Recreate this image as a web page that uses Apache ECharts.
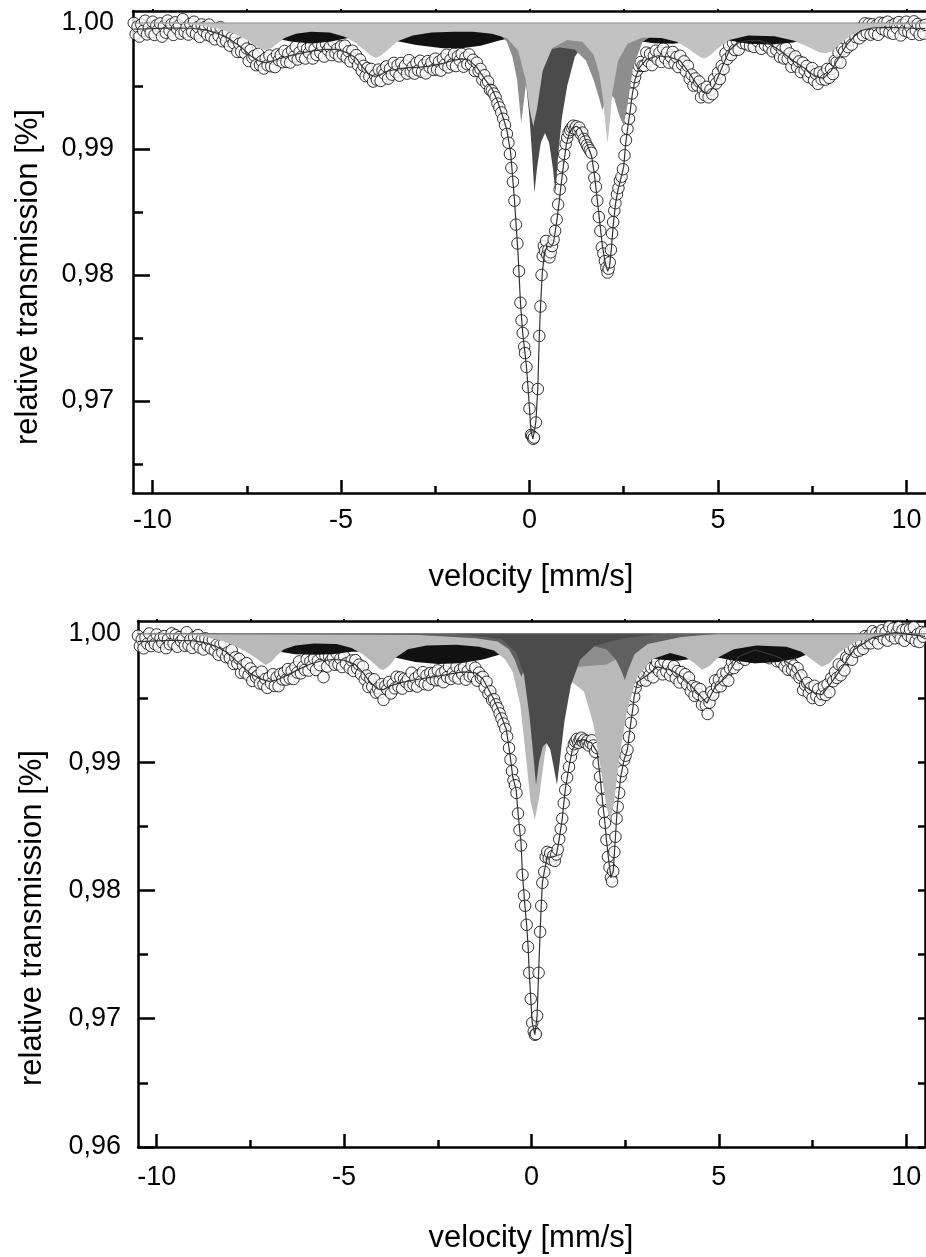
<!DOCTYPE html>
<html><head><meta charset="utf-8">
<script src="https://cdn.jsdelivr.net/npm/echarts@6/dist/echarts.min.js"></script>
<style>html,body{margin:0;padding:0;background:#fff}#c{width:926px;height:1257px}</style>
</head><body><div id="c"></div><script>
// ---------- tick values ----------
const xMajorTicks = [-10, -5, 0, 5, 10];
const xMinorTicks = [-7.5, -2.5, 2.5, 7.5];
const xTopTicks = [-10, -7.5, -5, -2.5, 0, 2.5, 5, 7.5, 10];
const topYMajor = [0.97, 0.98, 0.99, 1.00];
const topYMinor = [0.965, 0.975, 0.985, 0.995];
const botYMajor = [0.96, 0.97, 0.98, 0.99, 1.00];
const botYMinor = [0.965, 0.975, 0.985, 0.995];
const xTitle = 'velocity [mm/s]';
const yTitle = 'relative transmission [%]';
const baseline = [[-10.6, 1.0], [10.6, 1.0]];

// ---------- top panel: measured points ----------
const topLeftPts = [
[-10.50,1.00000],[-10.45,0.99911],[-10.40,0.99971],[-10.35,0.99892],[-10.30,0.99987],[-10.25,0.99938],[-10.20,1.00018],[-10.15,0.99909],[-10.10,0.99964],[-10.05,0.99925],
[-10.00,1.00010],[-9.95,0.99905],[-9.90,0.99981],[-9.85,0.99946],[-9.80,0.99997],[-9.75,0.99892],[-9.70,0.99973],[-9.65,0.99923],[-9.60,1.00019],[-9.55,0.99939],
[-9.50,0.99990],[-9.45,0.99905],[-9.40,1.00005],[-9.35,0.99955],[-9.30,0.99980],[-9.25,0.99915],[-9.20,1.00030],[-9.15,0.99930],[-9.10,0.99965],[-9.05,0.99908],
[-9.00,0.99993],[-8.95,0.99931],[-8.90,1.00010],[-8.85,0.99913],[-8.80,0.99967],[-8.75,0.99890],[-8.70,0.99988],[-8.65,0.99937],[-8.60,0.99970],[-8.55,0.99906],
[-8.50,0.99987],[-8.45,0.99893],[-8.40,0.99949],[-8.35,0.99870],[-8.30,0.99955],[-8.25,0.99898],[-8.20,0.99967],[-8.15,0.99855],[-8.10,0.99903],[-8.05,0.99857],
[-8.00,0.99930],[-7.95,0.99820],[-7.90,0.99885],[-7.85,0.99840],[-7.80,0.99880],[-7.75,0.99770],[-7.70,0.99835],[-7.65,0.99772],[-7.60,0.99848],[-7.55,0.99760],
[-7.50,0.99797],[-7.45,0.99698],[-7.40,0.99785],[-7.35,0.99725],[-7.30,0.99740],[-7.25,0.99665],[-7.20,0.99755],[-7.15,0.99666],[-7.10,0.99697],[-7.05,0.99639],
[-7.00,0.99720],[-6.95,0.99664],[-6.90,0.99742],[-6.85,0.99656],[-6.80,0.99715],[-6.75,0.99650],[-6.70,0.99750],[-6.65,0.99705],[-6.60,0.99745],[-6.55,0.99689],
[-6.50,0.99778],[-6.45,0.99693],[-6.40,0.99757],[-6.35,0.99686],[-6.30,0.99780],[-6.25,0.99733],[-6.20,0.99812],[-6.15,0.99710],[-6.10,0.99768],[-6.05,0.99732],
[-6.00,0.99815],[-5.95,0.99718],[-5.90,0.99795],[-5.85,0.99763],[-5.80,0.99815],[-5.75,0.99718],[-5.70,0.99795],[-5.65,0.99747],[-5.60,0.99838],[-5.55,0.99765],
[-5.50,0.99817],[-5.45,0.99733],[-5.40,0.99835],[-5.35,0.99785],[-5.30,0.99810],[-5.25,0.99745],[-5.20,0.99850],[-5.15,0.99760],[-5.10,0.99795],[-5.05,0.99735],
[-5.00,0.99815],[-4.95,0.99750],[-4.90,0.99820],[-4.85,0.99725],[-4.80,0.99775],[-4.75,0.99695],[-4.70,0.99780],[-4.65,0.99720],[-4.60,0.99745],[-4.55,0.99665],
[-4.50,0.99710],[-4.45,0.99620],[-4.40,0.99660],[-4.35,0.99578],[-4.30,0.99642],[-4.25,0.99575],[-4.20,0.99635],[-4.15,0.99535],[-4.10,0.99585],[-4.05,0.99550],
[-4.00,0.99630],[-3.95,0.99540],[-3.90,0.99623],[-3.85,0.99597],[-3.80,0.99655],[-3.75,0.99558],[-3.70,0.99637],[-3.65,0.99590],[-3.60,0.99683],[-3.55,0.99612],
[-3.50,0.99665],[-3.45,0.99582],[-3.40,0.99683],[-3.35,0.99635],[-3.30,0.99662],[-3.25,0.99598],[-3.20,0.99705],[-3.15,0.99616],[-3.10,0.99652],[-3.05,0.99598],
[-3.00,0.99683],[-2.95,0.99624],[-2.90,0.99700],[-2.85,0.99612],[-2.80,0.99668],[-2.75,0.99600],[-2.70,0.99697],[-2.65,0.99648],[-2.60,0.99685],[-2.55,0.99628],
[-2.50,0.99717],[-2.45,0.99630],[-2.40,0.99693],[-2.35,0.99622],[-2.30,0.99715],[-2.25,0.99669],[-2.20,0.99748],[-2.15,0.99648],[-2.10,0.99707],[-2.05,0.99671],
[-2.00,0.99755],[-1.95,0.99658],[-1.90,0.99735],[-1.85,0.99703],[-1.80,0.99755],[-1.75,0.99653],[-1.70,0.99725],[-1.65,0.99673],[-1.60,0.99750],[-1.55,0.99671],
[-1.50,0.99708],[-1.45,0.99619],[-1.40,0.99685],[-1.35,0.99618],[-1.30,0.99635],[-1.25,0.99548],[-1.20,0.99585],[-1.15,0.99520],[-1.10,0.99535],[-1.05,0.99470]
];
const topCenterPts = [
[-1.0,0.99465],[-0.95,0.99440],[-0.90,0.99410],[-0.85,0.99360],[-0.80,0.99330],
[-0.75,0.99290],[-0.70,0.99240],[-0.65,0.99190],[-0.60,0.99120],[-0.56,0.99050],[-0.52,0.98960],[-0.48,0.98850],[-0.44,0.98740],[-0.40,0.98590],[-0.36,0.98400],
[-0.32,0.98250],[-0.28,0.98030],[-0.24,0.97780],[-0.21,0.97640],[-0.18,0.97540],[-0.14,0.97430],[-0.12,0.97380],[-0.08,0.97270],[-0.04,0.97110],[0.00,0.96940],
[0.04,0.96730],[0.07,0.96720],[0.10,0.96700],[0.12,0.96710],[0.17,0.96830],[0.22,0.97095],[0.26,0.97516],[0.29,0.97750],[0.32,0.98000],[0.35,0.98150],
[0.38,0.98230],[0.41,0.98190],[0.44,0.98270],[0.47,0.98160],[0.50,0.98200],[0.53,0.98140],[0.56,0.98180],[0.60,0.98230],[0.64,0.98280],[0.68,0.98350],
[0.72,0.98440],[0.76,0.98560],[0.80,0.98680],[0.84,0.98760],[0.88,0.98860],[0.92,0.98960],[0.96,0.99040],[1.00,0.99090],[1.04,0.99130],[1.08,0.99150],
[1.12,0.99170],[1.16,0.99185],[1.20,0.99160],[1.24,0.99180],[1.28,0.99150],[1.32,0.99170],[1.36,0.99120],[1.40,0.99130],[1.44,0.99080],[1.48,0.99060],
[1.52,0.99030],[1.56,0.99010],[1.60,0.98990],[1.64,0.98970],[1.68,0.98860],[1.72,0.98770],[1.76,0.98700],[1.80,0.98590],[1.84,0.98460],[1.88,0.98350],
[1.92,0.98220],[1.96,0.98170],[2.00,0.98110],[2.04,0.98060],[2.07,0.98020],[2.10,0.98050],[2.13,0.98100],[2.16,0.98200],[2.19,0.98330],[2.22,0.98420],
[2.25,0.98510],[2.28,0.98570],[2.32,0.98640],[2.36,0.98690],[2.40,0.98750],[2.44,0.98780],[2.48,0.98840],[2.52,0.98950],[2.56,0.99070],[2.60,0.99160],
[2.64,0.99240],[2.68,0.99320],[2.72,0.99440],[2.76,0.99530],[2.80,0.99570],[2.85,0.99620],[2.90,0.99660],[2.95,0.99690],[3.00,0.99660]
];
const topRightPts = [
[3.05,0.99660],[3.10,0.99765],[3.15,0.99695],[3.20,0.99755],[3.25,0.99665],[3.30,0.99740],[3.35,0.99780],[3.40,0.99710],[3.45,0.99765],[3.50,0.99690],
[3.55,0.99798],[3.60,0.99722],[3.65,0.99765],[3.70,0.99685],[3.75,0.99730],[3.80,0.99770],[3.85,0.99680],[3.90,0.99730],[3.95,0.99650],[4.00,0.99740],
[4.05,0.99670],[4.10,0.99695],[4.15,0.99615],[4.20,0.99660],[4.25,0.99557],[4.30,0.99590],[4.35,0.99503],[4.40,0.99560],[4.45,0.99505],[4.50,0.99535],
[4.55,0.99410],[4.60,0.99475],[4.65,0.99427],[4.70,0.99493],[4.75,0.99410],[4.80,0.99470],[4.85,0.99435],[4.90,0.99555],[4.95,0.99520],[5.00,0.99605],
[5.05,0.99555],[5.10,0.99660],[5.15,0.99635],[5.20,0.99760],[5.25,0.99715],[5.30,0.99820],[5.35,0.99745],[5.40,0.99840],[5.45,0.99785],[5.50,0.99860],
[5.55,0.99788],[5.60,0.99887],[5.65,0.99840],[5.70,0.99888],[5.75,0.99832],[5.80,0.99905],[5.85,0.99820],[5.90,0.99875],[5.95,0.99810],[6.00,0.99890],
[6.05,0.99855],[6.10,0.99905],[6.15,0.99795],[6.20,0.99875],[6.25,0.99825],[6.30,0.99890],[6.35,0.99805],[6.40,0.99840],[6.45,0.99775],[6.50,0.99865],
[6.55,0.99785],[6.60,0.99825],[6.65,0.99730],[6.70,0.99790],[6.75,0.99718],[6.80,0.99802],[6.85,0.99715],[6.90,0.99758],[6.95,0.99652],[7.00,0.99710],
[7.05,0.99735],[7.10,0.99650],[7.15,0.99695],[7.20,0.99610],[7.25,0.99685],[7.30,0.99625],[7.35,0.99658],[7.40,0.99571],[7.45,0.99609],[7.50,0.99642],
[7.55,0.99545],[7.60,0.99596],[7.65,0.99517],[7.70,0.99608],[7.75,0.99554],[7.80,0.99595],[7.85,0.99550],[7.90,0.99635],[7.95,0.99565],[8.00,0.99635],
[8.05,0.99595],[8.10,0.99700],[8.15,0.99690],[8.20,0.99765],[8.25,0.99685],[8.30,0.99795],[8.35,0.99775],[8.40,0.99870],[8.45,0.99808],[8.50,0.99865],
[8.55,0.99828],[8.60,0.99945],[8.65,0.99888],[8.70,0.99950],[8.75,0.99878],[8.80,0.99960],[8.85,0.99903],[8.90,0.99997],[8.95,0.99920],[9.00,0.99993],
[9.05,0.99907],[9.10,0.99990],[9.15,0.99920],[9.20,0.99981],[9.25,0.99906],[9.30,1.00002],[9.35,0.99952],[9.40,0.99998],[9.45,0.99939],[9.50,1.00010],
[9.55,0.99925],[9.60,0.99979],[9.65,0.99914],[9.70,0.99993],[9.75,0.99958],[9.80,1.00007],[9.85,0.99901],[9.90,0.99986],[9.95,0.99940],[10.00,1.00010],
[10.05,0.99929],[10.10,0.99969],[10.15,0.99913],[10.20,1.00013],[10.25,0.99942],[10.30,0.99992],[10.35,0.99906],[10.40,0.99976],[10.45,0.99915],[10.50,0.99985]
];
// ---------- top panel: fit envelope ----------
const topFit = [
[-10.5,0.99950],[-10.0,0.99955],[-9.5,0.99960],[-9.0,0.99958],[-8.6,0.99945],[-8.3,0.99920],[-8.0,0.99880],[-7.7,0.99820],[-7.4,0.99740],[-7.2,0.99700],
[-7.0,0.99685],[-6.8,0.99700],[-6.6,0.99720],[-6.3,0.99745],[-6.0,0.99765],[-5.7,0.99780],[-5.4,0.99790],[-5.1,0.99790],[-4.8,0.99760],[-4.6,0.99720],
[-4.4,0.99640],[-4.25,0.99590],[-4.1,0.99575],[-3.95,0.99590],[-3.8,0.99615],[-3.5,0.99635],[-3.2,0.99645],[-2.9,0.99650],[-2.6,0.99660],[-2.3,0.99680],
[-2.0,0.99705],[-1.8,0.99715],[-1.6,0.99705],[-1.4,0.99650],[-1.2,0.99560],[-1.0,0.99480],[-0.85,0.99380],[-0.7,0.99250],[-0.6,0.99150],[-0.5,0.98970],
[-0.4,0.98600],[-0.3,0.98150],[-0.24,0.97780],[-0.18,0.97540],[-0.12,0.97380],[-0.08,0.97270],[-0.04,0.97110],[0.0,0.96940],[0.04,0.96760],[0.09,0.96700],
[0.13,0.96760],[0.17,0.96840],[0.22,0.97100],[0.26,0.97520],[0.30,0.97800],[0.34,0.98020],[0.40,0.98180],[0.48,0.98230],[0.56,0.98220],[0.64,0.98260],
[0.72,0.98420],[0.78,0.98560],[0.84,0.98720],[0.90,0.98870],[0.98,0.99040],[1.06,0.99130],[1.15,0.99170],[1.25,0.99180],[1.35,0.99160],[1.45,0.99100],
[1.55,0.99020],[1.65,0.98940],[1.72,0.98800],[1.79,0.98620],[1.86,0.98430],[1.93,0.98240],[2.00,0.98110],[2.07,0.98030],[2.12,0.98060],[2.17,0.98200],
[2.22,0.98390],[2.28,0.98560],[2.35,0.98680],[2.42,0.98760],[2.50,0.98860],[2.55,0.99040],[2.62,0.99200],[2.68,0.99320],[2.73,0.99440],[2.80,0.99550],
[2.9,0.99640],[3.1,0.99710],[3.4,0.99740],[3.7,0.99730],[4.0,0.99700],[4.2,0.99620],[4.4,0.99530],[4.6,0.99450],[4.75,0.99440],[4.9,0.99500],
[5.1,0.99640],[5.3,0.99780],[5.5,0.99840],[5.8,0.99860],[6.1,0.99860],[6.4,0.99830],[6.7,0.99770],[7.0,0.99700],[7.3,0.99640],[7.55,0.99580],
[7.8,0.99560],[8.0,0.99620],[8.2,0.99720],[8.4,0.99820],[8.6,0.99890],[8.8,0.99940],[9.1,0.99960],[9.5,0.99965],[10.0,0.99960],[10.5,0.99955]
];
// ---------- top panel: subspectra ----------
const topBlack = [
[-10.5,1.0],[-9.0,1.0],[-8.2,0.9998],[-7.5,0.9995],[-6.8,0.9988],[-6.3,0.9985],[-5.8,0.99838],[-5.3,0.9985],[-4.8,0.9988],[-4.3,0.9989],
[-3.6,0.9986],[-3.0,0.99825],[-2.3,0.9980],[-1.8,0.9980],[-1.3,0.9982],[-0.8,0.9986],[-0.2,0.9990],[0.5,0.9992],[1.2,0.9991],[2.0,0.9989],
[2.8,0.9986],[3.3,0.9984],[3.8,0.99835],[4.3,0.9985],[4.8,0.9987],[5.3,0.9986],[5.8,0.99835],[6.4,0.9983],[7.0,0.99845],[7.5,0.9988],
[8.2,0.9994],[9.0,0.9998],[10.5,1.0]
];
const topDark = [
[-10.5,1.0],[-3.0,1.0],[-1.0,0.99965],[-0.6,0.9993],[-0.4,0.9988],[-0.25,0.9978],[-0.1,0.9955],[0.0,0.9925],[0.07,0.9895],[0.13,0.98651],
[0.2,0.9885],[0.3,0.9905],[0.41,0.99127],[0.52,0.9905],[0.62,0.9885],[0.69,0.98651],[0.76,0.9895],[0.86,0.9925],[1.0,0.9950],[1.2,0.9973],
[1.5,0.9987],[2.0,0.99945],[3.0,0.9998],[4.0,1.0],[10.5,1.0]
];
const topMid = [
[-10.5,1.0],[-3.0,1.0],[-2.0,0.99985],[-1.2,0.9995],[-0.8,0.9991],[-0.6,0.9985],[-0.45,0.9973],[-0.33,0.9955],[-0.22,0.99206],[-0.1,0.9950],
[0.1,0.9970],[0.4,0.9978],[0.8,0.99805],[1.2,0.9979],[1.5,0.9970],[1.7,0.9955],[1.85,0.9940],[1.93,0.9931],[2.0,0.9936],[2.1,0.9945],
[2.25,0.9940],[2.4,0.9925],[2.5,0.9919],[2.6,0.9935],[2.75,0.9965],[3.0,0.9985],[3.5,0.99945],[4.5,0.9998],[6.0,1.0],[10.5,1.0]
];
const topLight = [
[-10.5,1.0],[-9.5,0.99995],[-9.0,0.9999],[-8.6,0.99975],[-8.2,0.9995],[-7.8,0.9991],[-7.5,0.99865],[-7.3,0.99825],[-7.15,0.99795],[-7.0,0.99786],
[-6.85,0.9980],[-6.7,0.99835],[-6.5,0.9988],[-6.2,0.99915],[-5.8,0.9993],[-5.3,0.99925],[-4.9,0.9989],[-4.6,0.9984],[-4.4,0.9979],[-4.2,0.9974],
[-4.08,0.99722],[-3.95,0.9974],[-3.75,0.9979],[-3.5,0.99855],[-3.1,0.9990],[-2.6,0.99925],[-2.0,0.9993],[-1.5,0.9993],[-1.0,0.99915],[-0.6,0.9988],
[-0.3,0.9978],[-0.1,0.9955],[0.0,0.9932],[0.1,0.9918],[0.2,0.9932],[0.35,0.9962],[0.6,0.9980],[1.0,0.99865],[1.4,0.9985],[1.7,0.9975],
[1.85,0.9960],[1.95,0.9940],[2.02,0.9918],[2.07,0.99048],[2.12,0.9918],[2.2,0.9945],[2.35,0.9970],[2.6,0.99835],[3.0,0.99885],[3.5,0.9988],
[3.9,0.9985],[4.2,0.9980],[4.4,0.99755],[4.55,0.99725],[4.66,0.9972],[4.8,0.99745],[5.0,0.9980],[5.3,0.99865],[5.8,0.9990],[6.5,0.99895],
[7.0,0.9986],[7.4,0.9981],[7.7,0.99765],[7.88,0.9976],[8.05,0.9978],[8.3,0.9985],[8.6,0.99915],[9.0,0.99955],[9.5,0.9998],[10.5,0.99995]
];

// ---------- bottom panel: measured points ----------
const botLeftPts = [
[-10.50,0.99985],[-10.45,0.99905],[-10.40,0.99956],[-10.35,0.99887],[-10.30,0.99972],[-10.25,0.99923],[-10.20,1.00003],[-10.15,0.99904],[-10.10,0.99949],[-10.05,0.99920],
[-10.00,0.99995],[-9.95,0.99901],[-9.90,0.99966],[-9.85,0.99932],[-9.80,0.99982],[-9.75,0.99888],[-9.70,0.99958],[-9.65,0.99919],[-9.60,1.00004],[-9.55,0.99925],
[-9.50,0.99990],[-9.45,0.99899],[-9.40,0.99974],[-9.35,0.99943],[-9.30,0.99963],[-9.25,0.99907],[-9.20,1.00012],[-9.15,0.99911],[-9.10,0.99956],[-9.05,0.99890],
[-9.00,0.99975],[-8.95,0.99923],[-8.90,0.99990],[-8.85,0.99893],[-8.80,0.99955],[-8.75,0.99878],[-8.70,0.99965],[-8.65,0.99910],[-8.60,0.99950],[-8.55,0.99885],
[-8.50,0.99955],[-8.45,0.99870],[-8.40,0.99915],[-8.35,0.99837],[-8.30,0.99913],[-8.25,0.99855],[-8.20,0.99927],[-8.15,0.99818],[-8.10,0.99855],[-8.05,0.99812],
[-8.00,0.99873],[-7.95,0.99765],[-7.90,0.99817],[-7.85,0.99768],[-7.80,0.99805],[-7.75,0.99697],[-7.70,0.99753],[-7.65,0.99700],[-7.60,0.99772],[-7.55,0.99678],
[-7.50,0.99730],[-7.45,0.99633],[-7.40,0.99700],[-7.35,0.99663],[-7.30,0.99675],[-7.25,0.99613],[-7.20,0.99705],[-7.15,0.99606],[-7.10,0.99648],[-7.05,0.99579],
[-7.00,0.99660],[-6.95,0.99613],[-6.90,0.99685],[-6.85,0.99593],[-6.80,0.99660],[-6.75,0.99592],[-6.70,0.99688],[-6.65,0.99645],[-6.60,0.99697],[-6.55,0.99643],
[-6.50,0.99725],[-6.45,0.99653],[-6.40,0.99710],[-6.35,0.99648],[-6.30,0.99740],[-6.25,0.99698],[-6.20,0.99785],[-6.15,0.99692],[-6.10,0.99743],[-6.05,0.99720],
[-6.00,0.99802],[-5.95,0.99713],[-5.90,0.99785],[-5.85,0.99754],[-5.80,0.99808],[-5.75,0.99718],[-5.70,0.99792],[-5.65,0.99756],[-5.60,0.99845],[-5.55,0.99662],
[-5.50,0.99833],[-5.45,0.99745],[-5.40,0.99822],[-5.35,0.99793],[-5.30,0.99815],[-5.25,0.99759],[-5.20,0.99848],[-5.15,0.99762],[-5.10,0.99807],[-5.05,0.99741],
[-5.00,0.99825],[-4.95,0.99769],[-4.90,0.99913],[-4.85,0.99732],[-4.80,0.99792],[-4.75,0.99711],[-4.70,0.99795],[-4.65,0.99730],[-4.60,0.99760],[-4.55,0.99685],
[-4.50,0.99745],[-4.45,0.99645],[-4.40,0.99675],[-4.35,0.99585],[-4.30,0.99650],[-4.25,0.99587],[-4.20,0.99645],[-4.15,0.99542],[-4.10,0.99575],[-4.05,0.99543],
[-4.00,0.99607],[-3.95,0.99485],[-3.90,0.99593],[-3.85,0.99567],[-3.80,0.99625],[-3.75,0.99535],[-3.70,0.99610],[-3.65,0.99575],[-3.60,0.99665],[-3.55,0.99590],
[-3.50,0.99660],[-3.45,0.99573],[-3.40,0.99650],[-3.35,0.99623],[-3.30,0.99646],[-3.25,0.99594],[-3.20,0.99697],[-3.15,0.99604],[-3.10,0.99652],[-3.05,0.99589],
[-3.00,0.99677],[-2.95,0.99629],[-2.90,0.99701],[-2.85,0.99608],[-2.80,0.99676],[-2.75,0.99603],[-2.70,0.99695],[-2.65,0.99648],[-2.60,0.99695],[-2.55,0.99638],
[-2.50,0.99715],[-2.45,0.99638],[-2.40,0.99690],[-2.35,0.99623],[-2.30,0.99710],[-2.25,0.99663],[-2.20,0.99745],[-2.15,0.99648],[-2.10,0.99695],[-2.05,0.99668],
[-2.00,0.99745],[-1.95,0.99652],[-1.90,0.99720],[-1.85,0.99687],[-1.80,0.99739],[-1.75,0.99643],[-1.70,0.99711],[-1.65,0.99670],[-1.60,0.99754],[-1.55,0.99672],
[-1.50,0.99736],[-1.45,0.99635],[-1.40,0.99698],[-1.35,0.99657],[-1.30,0.99665],[-1.25,0.99583],[-1.20,0.99626],[-1.15,0.99534],[-1.10,0.99552],[-1.05,0.99485]
];
const botCenterPts = [
[-1.0,0.99490],[-0.95,0.99450],[-0.90,0.99420],[-0.85,0.99380],[-0.80,0.99340],
[-0.75,0.99300],[-0.70,0.99260],[-0.65,0.99200],[-0.60,0.99110],[-0.56,0.99020],[-0.52,0.98930],[-0.48,0.98860],[-0.44,0.98820],[-0.40,0.98760],[-0.36,0.98600],
[-0.32,0.98470],[-0.28,0.98350],[-0.24,0.98122],[-0.20,0.97960],[-0.17,0.97880],[-0.13,0.97732],[-0.09,0.97560],[-0.06,0.97358],[-0.02,0.97155],[0.02,0.96968],
[0.06,0.96900],[0.09,0.96875],[0.12,0.96880],[0.15,0.97023],[0.19,0.97358],[0.23,0.97677],[0.26,0.97880],[0.29,0.98059],[0.34,0.98145],[0.38,0.98260],
[0.42,0.98300],[0.46,0.98250],[0.50,0.98290],[0.54,0.98240],[0.58,0.98270],[0.62,0.98230],[0.66,0.98280],[0.70,0.98320],[0.74,0.98400],[0.78,0.98480],
[0.82,0.98560],[0.86,0.98680],[0.90,0.98784],[0.95,0.98880],[1.00,0.98963],[1.05,0.99040],[1.09,0.99096],[1.13,0.99140],[1.17,0.99160],[1.21,0.99180],
[1.25,0.99150],[1.29,0.99175],[1.33,0.99190],[1.37,0.99160],[1.41,0.99175],[1.45,0.99150],[1.49,0.99165],[1.53,0.99130],[1.57,0.99150],[1.61,0.99170],
[1.65,0.99130],[1.70,0.99080],[1.75,0.99110],[1.79,0.98990],[1.83,0.98886],[1.86,0.98800],[1.89,0.98706],[1.93,0.98610],[1.96,0.98527],[2.00,0.98394],
[2.04,0.98262],[2.08,0.98180],[2.12,0.98100],[2.15,0.98070],[2.18,0.98150],[2.21,0.98300],[2.24,0.98418],[2.27,0.98560],[2.30,0.98652],[2.34,0.98760],
[2.38,0.98886],[2.42,0.98930],[2.47,0.99018],[2.51,0.99050],[2.56,0.99096],[2.60,0.99197],[2.65,0.99306],[2.70,0.99408],[2.74,0.99510],[2.78,0.99580],
[2.83,0.99626],[2.88,0.99660],[2.93,0.99640],[3.0,0.99680]
];
const botRightPts = [
[3.05,0.99635],[3.10,0.99730],[3.15,0.99677],[3.20,0.99734],[3.25,0.99661],[3.30,0.99743],[3.35,0.99780],[3.40,0.99710],[3.45,0.99757],[3.50,0.99684],
[3.55,0.99786],[3.60,0.99707],[3.65,0.99759],[3.70,0.99675],[3.75,0.99716],[3.80,0.99748],[3.85,0.99654],[3.90,0.99710],[3.95,0.99621],[4.00,0.99702],
[4.05,0.99648],[4.10,0.99685],[4.15,0.99605],[4.20,0.99660],[4.25,0.99553],[4.30,0.99593],[4.35,0.99517],[4.40,0.99582],[4.45,0.99530],[4.50,0.99569],
[4.55,0.99447],[4.60,0.99506],[4.65,0.99444],[4.70,0.99375],[4.75,0.99464],[4.80,0.99547],[4.85,0.99526],[4.90,0.99637],[4.95,0.99585],[5.00,0.99643],
[5.05,0.99591],[5.10,0.99689],[5.15,0.99637],[5.20,0.99695],[5.25,0.99635],[5.30,0.99729],[5.35,0.99779],[5.40,0.99733],[5.45,0.99807],[5.50,0.99762],
[5.55,0.99879],[5.60,0.99811],[5.65,0.99872],[5.70,0.99798],[5.75,0.99854],[5.80,0.99900],[5.85,0.99821],[5.90,0.99892],[5.95,0.99818],[6.00,0.99910],
[6.05,0.99864],[6.10,0.99913],[6.15,0.99846],[6.20,0.99929],[6.25,0.99821],[6.30,0.99873],[6.35,0.99810],[6.40,0.99886],[6.45,0.99846],[6.50,0.99896],
[6.55,0.99786],[6.60,0.99839],[6.65,0.99782],[6.70,0.99840],[6.75,0.99748],[6.80,0.99786],[6.85,0.99719],[6.90,0.99790],[6.95,0.99720],[7.00,0.99753],
[7.05,0.99693],[7.10,0.99733],[7.15,0.99659],[7.20,0.99675],[7.25,0.99561],[7.30,0.99602],[7.35,0.99618],[7.40,0.99538],[7.45,0.99579],[7.50,0.99499],
[7.55,0.99595],[7.60,0.99516],[7.65,0.99568],[7.70,0.99484],[7.75,0.99530],[7.80,0.99589],[7.85,0.99523],[7.90,0.99607],[7.95,0.99546],[8.00,0.99655],
[8.05,0.99630],[8.10,0.99701],[8.15,0.99656],[8.20,0.99762],[8.25,0.99677],[8.30,0.99753],[8.35,0.99715],[8.40,0.99817],[8.45,0.99804],[8.50,0.99881],
[8.55,0.99798],[8.60,0.99895],[8.65,0.99860],[8.70,0.99939],[8.75,0.99869],[8.80,0.99928],[8.85,0.99883],[8.90,0.99982],[8.95,0.99927],[9.00,0.99981],
[9.05,0.99926],[9.10,1.00020],[9.15,0.99958],[9.20,1.00007],[9.25,0.99925],[9.30,0.99998],[9.35,1.00027],[9.40,0.99960],[9.45,1.00013],[9.50,0.99947],
[9.55,1.00055],[9.60,0.99983],[9.65,1.00042],[9.70,0.99965],[9.75,1.00013],[9.80,1.00051],[9.85,0.99964],[9.90,1.00028],[9.95,0.99946],[10.00,1.00034],
[10.05,0.99987],[10.10,1.00035],[10.15,0.99968],[10.20,1.00051],[10.25,0.99944],[10.30,0.99997],[10.35,0.99936],[10.40,1.00014],[10.45,0.99977],[10.50,1.00010]
];
const botFit = [
[-10.5,0.9994],[-10.0,0.99945],[-9.5,0.9995],[-9.0,0.99945],[-8.7,0.9993],[-8.4,0.9990],[-8.1,0.9985],[-7.8,0.9977],[-7.5,0.9969],[-7.2,0.99645],
[-7.0,0.9963],[-6.8,0.9964],[-6.5,0.9968],[-6.2,0.99725],[-5.9,0.99765],[-5.6,0.9979],[-5.3,0.9980],[-5.0,0.99795],[-4.7,0.9976],[-4.5,0.9970],
[-4.3,0.9962],[-4.1,0.9957],[-3.95,0.99565],[-3.8,0.9959],[-3.5,0.9962],[-3.1,0.99642],[-2.7,0.9966],[-2.3,0.9968],[-2.0,0.99695],[-1.8,0.99704],
[-1.5,0.99696],[-1.3,0.9965],[-1.04,0.9951],[-0.8,0.99353],[-0.67,0.99252],[-0.58,0.99072],[-0.5,0.98886],[-0.41,0.98784],[-0.36,0.98605],[-0.28,0.98371],
[-0.24,0.98122],[-0.18,0.97896],[-0.13,0.97732],[-0.09,0.9756],[-0.06,0.97358],[-0.02,0.97155],[0.02,0.96968],[0.09,0.96875],[0.15,0.97023],[0.19,0.97358],
[0.23,0.97677],[0.26,0.9788],[0.29,0.98059],[0.34,0.98145],[0.42,0.9826],[0.55,0.9826],[0.66,0.9827],[0.74,0.9840],[0.82,0.9856],[0.9,0.98784],
[1.0,0.98963],[1.09,0.99096],[1.2,0.9916],[1.4,0.99175],[1.6,0.9915],[1.75,0.9908],[1.83,0.98886],[1.89,0.98706],[1.96,0.98527],[2.0,0.98394],
[2.05,0.98262],[2.12,0.9810],[2.18,0.9815],[2.24,0.98418],[2.29,0.98652],[2.38,0.98886],[2.47,0.99018],[2.56,0.99096],[2.6,0.99197],[2.65,0.99306],
[2.7,0.99408],[2.74,0.9951],[2.83,0.99626],[3.1,0.9968],[3.36,0.99743],[3.7,0.9972],[4.06,0.99657],[4.41,0.99548],[4.68,0.9946],[4.9,0.99587],
[5.2,0.99665],[5.52,0.99821],[5.97,0.99875],[6.58,0.9982],[7.03,0.99743],[7.3,0.99587],[7.55,0.9954],[7.75,0.99525],[8.0,0.9962],[8.3,0.99743],
[8.6,0.99875],[9.1,0.9997],[9.7,1.0001],[10.5,0.9998]
];
const botBlack = [
[-10.5,1.0],[-9.0,1.0],[-8.0,0.9997],[-7.3,0.9992],[-6.8,0.99865],[-6.3,0.9984],[-5.8,0.99836],[-5.3,0.9984],[-4.8,0.9986],[-4.3,0.9986],
[-3.7,0.9982],[-3.1,0.9978],[-2.5,0.99765],[-1.9,0.9977],[-1.3,0.9980],[-0.7,0.9985],[0.0,0.9988],[1.0,0.9989],[2.0,0.9987],[2.8,0.9983],
[3.4,0.9980],[3.9,0.9979],[4.4,0.9981],[4.9,0.9982],[5.4,0.9979],[6.0,0.9977],[6.6,0.9978],[7.1,0.9981],[7.6,0.9987],[8.3,0.9994],
[9.0,0.9998],[10.5,1.0]
];
const botLight = [
[-10.5,1.0],[-9.5,0.99995],[-9.0,0.9999],[-8.6,0.9997],[-8.2,0.9994],[-7.8,0.9989],[-7.5,0.9984],[-7.3,0.9980],[-7.1,0.99758],[-6.95,0.9978],
[-6.8,0.9983],[-6.6,0.9988],[-6.3,0.9991],[-5.8,0.99925],[-5.2,0.9992],[-4.8,0.9989],[-4.5,0.9984],[-4.25,0.9978],[-4.05,0.99725],[-3.95,0.99719],
[-3.8,0.9975],[-3.6,0.9982],[-3.3,0.9988],[-2.8,0.9991],[-2.0,0.99915],[-1.4,0.9990],[-1.0,0.9987],[-0.7,0.9980],[-0.5,0.9970],[-0.3,0.9945],
[-0.15,0.9905],[-0.03,0.9870],[0.09,0.9855],[0.2,0.9872],[0.35,0.9905],[0.55,0.9937],[0.8,0.9957],[1.1,0.9962],[1.4,0.9955],[1.65,0.9930],
[1.85,0.9895],[2.0,0.9865],[2.1,0.9855],[2.2,0.9868],[2.35,0.9905],[2.55,0.9940],[2.8,0.9965],[3.2,0.9980],[3.7,0.9985],[4.1,0.9982],
[4.35,0.9977],[4.55,0.9972],[4.75,0.9975],[5.0,0.9982],[5.4,0.9988],[6.0,0.9991],[6.8,0.9990],[7.2,0.9986],[7.5,0.99795],[7.75,0.99743],
[7.95,0.9977],[8.2,0.9985],[8.6,0.9993],[9.2,0.9998],[10.5,1.0]
];
const botMid = [
[-10.5,1.0],[-3.0,1.0],[-1.5,0.9999],[-0.8,0.9995],[-0.4,0.9985],[0.0,0.9976],[0.5,0.9972],[1.0,0.99735],[1.5,0.9975],[2.0,0.9976],
[2.4,0.9982],[2.8,0.9992],[3.3,0.9998],[4.0,1.0],[10.5,1.0]
];
const botDark2 = [
[-10.5,1.0],[-5.0,0.99995],[-3.0,0.9999],[-1.5,0.99965],[-0.9,0.9994],[-0.6,0.9988],[-0.45,0.9980],[-0.35,0.9972],[-0.27,0.99665],[-0.18,0.9974],
[-0.05,0.9984],[0.2,0.9990],[0.8,0.99925],[1.5,0.99915],[2.0,0.9988],[2.25,0.9980],[2.4,0.9971],[2.49,0.9964],[2.58,0.9972],[2.75,0.9984],
[3.1,0.9992],[4.0,0.99975],[5.0,1.0],[10.5,1.0]
];
const botDark = [
[-10.5,1.0],[-2.0,1.0],[-0.8,0.9996],[-0.4,0.9985],[-0.2,0.9968],[-0.05,0.9935],[0.05,0.9905],[0.12,0.98823],[0.2,0.9900],[0.3,0.9912],
[0.4,0.9915],[0.5,0.9910],[0.6,0.9895],[0.68,0.98823],[0.76,0.9902],[0.88,0.9932],[1.05,0.9960],[1.3,0.9980],[1.7,0.9991],[2.5,0.9997],
[3.5,1.0],[10.5,1.0]
];

// ---------- colours ----------
const C_BLACK = '#111111', C_DARK = '#4b4b4b', C_DARK2 = '#606060', C_MID = '#8e8e8e', C_LIGHT = '#c2c2c2', C_LIGHT_B = '#b9b9b9';

const FONT = '"Liberation Sans", Arial, sans-serif';
const chart = echarts.init(document.getElementById('c'), null, {renderer: 'canvas'});

const fmtY = v => v.toFixed(2).replace('.', ',');
const fmtX = v => String(Math.round(v));
const AX = {color: '#000', width: 2.5};

function xAxesFor(gridIndex, min, max, labelMargin) {
  return [
    {gridIndex, type: 'value', min, max, position: 'bottom',
      axisLine: {show: true, onZero: false, lineStyle: AX},
      axisTick: {show: true, inside: true, length: 13, customValues: xMajorTicks, lineStyle: AX},
      axisLabel: {show: true, customValues: xMajorTicks, formatter: fmtX, margin: labelMargin, color: '#000', fontSize: 27, fontFamily: FONT},
      splitLine: {show: false}},
    {gridIndex, type: 'value', min, max, position: 'bottom',
      axisLine: {show: false, onZero: false},
      axisTick: {show: true, inside: true, length: 7, customValues: xMinorTicks, lineStyle: AX},
      axisLabel: {show: false}, splitLine: {show: false}},
    {gridIndex, type: 'value', min, max, position: 'top',
      axisLine: {show: true, onZero: false, lineStyle: AX},
      axisTick: {show: true, inside: false, length: 2, customValues: xTopTicks, lineStyle: {color: '#000', width: 2}},
      axisLabel: {show: false}, splitLine: {show: false}}
  ];
}
function yAxesFor(gridIndex, min, max, major, minor, labelMargin, withRight) {
  const arr = [
    {gridIndex, type: 'value', min, max, position: 'left',
      axisLine: {show: true, onZero: false, lineStyle: AX},
      axisTick: {show: true, inside: true, length: 17, customValues: major, lineStyle: AX},
      axisLabel: {show: true, customValues: major, formatter: fmtY, margin: labelMargin, color: '#000', fontSize: 27, fontFamily: FONT},
      splitLine: {show: false}},
    {gridIndex, type: 'value', min, max, position: 'left',
      axisLine: {show: false, onZero: false},
      axisTick: {show: true, inside: true, length: 10, customValues: minor, lineStyle: AX},
      axisLabel: {show: false}, splitLine: {show: false}}
  ];
  if (withRight) arr.push({gridIndex, type: 'value', min, max, position: 'right',
      axisLine: {show: true, onZero: false, lineStyle: AX},
      axisTick: {show: true, inside: true, length: 7, customValues: major.concat(minor), lineStyle: AX},
      axisLabel: {show: false}, splitLine: {show: false}});
  return arr;
}
function area(data, color, xi, yi) {
  return {type: 'line', data, xAxisIndex: xi, yAxisIndex: yi, symbol: 'none', silent: true,
    lineStyle: {width: 0, opacity: 0}, areaStyle: {color, opacity: 1, origin: 1.0}, animation: false};
}
function points(data, xi, yi) {
  return {type: 'scatter', data, xAxisIndex: xi, yAxisIndex: yi, symbol: 'circle', symbolSize: 11.5,
    itemStyle: {color: '#fff', borderColor: '#000', borderWidth: 1}, silent: true, animation: false};
}
function plainLine(data, xi, yi, color, width) {
  return {type: 'line', data, xAxisIndex: xi, yAxisIndex: yi, symbol: 'none', silent: true,
    lineStyle: {width, color}, animation: false};
}

const option = {
  backgroundColor: '#fff',
  animation: false,
  grid: [
    {left: 133, top: 11, width: 797, height: 482},
    {left: 138, top: 621, width: 787, height: 526}
  ],
  xAxis: [].concat(xAxesFor(0, -10.52, 10.52, 14), xAxesFor(1, -10.5, 10.5, 17)),
  yAxis: [].concat(yAxesFor(0, 0.9627, 1.00095, topYMajor, topYMinor, 19, false),
                   yAxesFor(1, 0.96, 1.001, botYMajor, botYMinor, 17, true)),
  series: [
    area(topBlack, C_BLACK, 0, 0),
    area(topDark, C_DARK, 0, 0),
    area(topMid, C_MID, 0, 0),
    area(topLight, C_LIGHT, 0, 0),
    plainLine(baseline, 0, 0, '#8c8c8c', 1),
    points(topLeftPts.concat(topCenterPts, topRightPts), 0, 0),
    plainLine(topFit, 0, 0, '#333', 1.2),
    area(botBlack, C_BLACK, 3, 2),
    area(botLight, C_LIGHT_B, 3, 2),
    area(botMid, C_MID, 3, 2),
    area(botDark2, C_DARK2, 3, 2),
    area(botDark, C_DARK, 3, 2),
    plainLine(baseline, 3, 2, '#6a6a6a', 1),
    points(botLeftPts.concat(botCenterPts, botRightPts), 3, 2),
    plainLine(botFit, 3, 2, '#333', 1.2)
  ],
  graphic: [
    {type: 'text', x: 28, y: 277, rotation: Math.PI / 2,
      style: {text: yTitle, font: '31px ' + FONT, fill: '#000', align: 'center', verticalAlign: 'middle'}},
    {type: 'text', x: 531, y: 577,
      style: {text: xTitle, font: '31px ' + FONT, fill: '#000', align: 'center', verticalAlign: 'middle'}},
    {type: 'text', x: 32, y: 918, rotation: Math.PI / 2,
      style: {text: yTitle, font: '31px ' + FONT, fill: '#000', align: 'center', verticalAlign: 'middle'}},
    {type: 'text', x: 531, y: 1238,
      style: {text: xTitle, font: '31px ' + FONT, fill: '#000', align: 'center', verticalAlign: 'middle'}}
  ]
};
chart.setOption(option);
</script></body></html>
